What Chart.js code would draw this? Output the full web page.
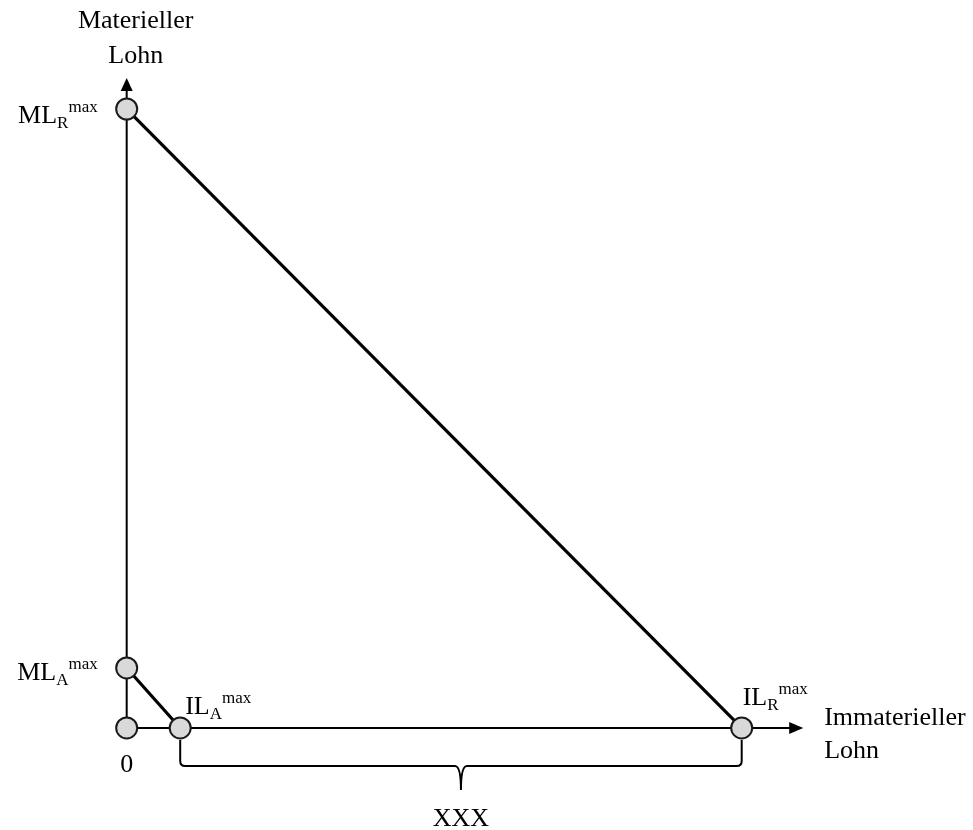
<!DOCTYPE html>
<html><head><meta charset="utf-8">
<script src="https://cdn.jsdelivr.net/npm/chart.js@4"></script>
<style>html,body{margin:0;padding:0;background:#fff}#wrap{width:973px;height:830px;position:relative}</style>
</head><body><div id="wrap"><canvas id="c"></canvas></div>
<script>
// Data (abstract units)
const pointKeys = ['origin', 'MLA', 'ILA', 'MLR', 'ILR'];
const pointX = [0, 0, 0.87, 0, 10];
const pointY = [0, 0.97, 0, 10, 0];
const lineRX = [0, 10];
const lineRY = [10, 0];
const lineAX = [0, 0.87];
const lineAY = [0.97, 0];
const xAxisEnd = 11.0;
const yAxisEnd = 10.5;
const pointLabelBase = ['0', 'ML', 'IL', 'ML', 'IL'];
const pointLabelSub = ['', 'A', 'A', 'R', 'R'];
const pointLabelSup = ['', 'max', 'max', 'max', 'max'];
const xTitle = ['Immaterieller', 'Lohn'];
const yTitle = ['Materieller', 'Lohn'];
const braceLabel = 'XXX';

const FONT = "'Liberation Serif', 'Times New Roman', serif";

const toXY = (xs, ys) => xs.map((x, i) => ({x, y: ys[i]}));

const decor = {
  id: 'decor',
  beforeDatasetsDraw(chart) {
    const ctx = chart.ctx, xs = chart.scales.x, ys = chart.scales.y;
    const ox = xs.getPixelForValue(0), oy = ys.getPixelForValue(0);
    const xe = xs.getPixelForValue(xAxisEnd), ye = ys.getPixelForValue(yAxisEnd);
    ctx.save();
    ctx.strokeStyle = '#000'; ctx.fillStyle = '#000'; ctx.lineWidth = 2;
    // axes
    ctx.beginPath(); ctx.moveTo(ox, oy); ctx.lineTo(xe - 12, oy); ctx.stroke();
    ctx.beginPath(); ctx.moveTo(ox, oy); ctx.lineTo(ox, ye + 12); ctx.stroke();
    // arrow heads
    ctx.beginPath(); ctx.moveTo(xe, oy); ctx.lineTo(xe - 14, oy - 6); ctx.lineTo(xe - 14, oy + 6); ctx.closePath(); ctx.fill();
    ctx.beginPath(); ctx.moveTo(ox, ye); ctx.lineTo(ox - 6, ye + 13); ctx.lineTo(ox + 6, ye + 13); ctx.closePath(); ctx.fill();
    ctx.restore();
  },
  afterDatasetsDraw(chart) {
    const ctx = chart.ctx, xs = chart.scales.x, ys = chart.scales.y;
    const ox = xs.getPixelForValue(0), oy = ys.getPixelForValue(0);
    const xe = xs.getPixelForValue(xAxisEnd), ye = ys.getPixelForValue(yAxisEnd);
    ctx.save();
    ctx.strokeStyle = '#000'; ctx.fillStyle = '#000';
    // brace between ILA and ILR
    const bx1 = xs.getPixelForValue(pointX[2]), bx2 = xs.getPixelForValue(pointX[4]);
    const top = oy + 12, hy = oy + 38, cy = oy + 62, mid = (bx1 + bx2) / 2;
    ctx.lineWidth = 2;
    ctx.beginPath();
    ctx.moveTo(bx1, top); ctx.lineTo(bx1, hy - 5);
    ctx.quadraticCurveTo(bx1, hy, bx1 + 5, hy);
    ctx.lineTo(mid - 6, hy);
    ctx.quadraticCurveTo(mid, hy, mid, cy);
    ctx.quadraticCurveTo(mid, hy, mid + 6, hy);
    ctx.lineTo(bx2 - 5, hy);
    ctx.quadraticCurveTo(bx2, hy, bx2, hy - 5);
    ctx.lineTo(bx2, top);
    ctx.stroke();
    // brace label
    ctx.font = '26px ' + FONT; ctx.textAlign = 'center'; ctx.textBaseline = 'alphabetic';
    ctx.fillText(braceLabel, mid, oy + 98);
    // axis titles
    ctx.textAlign = 'left';
    ctx.fillText(xTitle[0], xe + 21, oy - 3);
    ctx.fillText(xTitle[1], xe + 21, oy + 30);
    ctx.textAlign = 'center';
    ctx.fillText(yTitle[0], ox + 9, ye - 50);
    ctx.fillText(yTitle[1], ox + 9, ye - 15);
    // point labels
    const offs = {origin: [0, 44, 'c'], MLA: [-29, 12, 'r'], ILA: [5, -14, 'l'], MLR: [-29, 14, 'r'], ILR: [1, -23, 'l']};
    pointKeys.forEach((k, i) => {
      const px = xs.getPixelForValue(pointX[i]), py = ys.getPixelForValue(pointY[i]);
      const [dx, dy, al] = offs[k];
      const base = pointLabelBase[i], sub = pointLabelSub[i], sup = pointLabelSup[i];
      ctx.font = '26px ' + FONT; const wb = ctx.measureText(base).width;
      ctx.font = '17px ' + FONT; const ws = ctx.measureText(sub).width, wp = ctx.measureText(sup).width;
      const total = wb + ws + wp;
      let x0 = px + dx;
      if (al === 'r') x0 = px + dx - total;
      if (al === 'c') x0 = px + dx - total / 2;
      const by = py + dy;
      ctx.textAlign = 'left';
      ctx.font = '26px ' + FONT; ctx.fillText(base, x0, by);
      ctx.font = '17px ' + FONT;
      if (sub) ctx.fillText(sub, x0 + wb, by + 5);
      if (sup) ctx.fillText(sup, x0 + wb + ws, by - 11);
    });
    ctx.restore();
  }
};

new Chart(document.getElementById('c'), {
  type: 'scatter',
  data: {
    datasets: [
      {data: toXY(pointX, pointY), pointRadius: 10.5, pointHoverRadius: 10.5, pointBackgroundColor: '#d9d9d9', pointBorderColor: '#1a1a1a', pointBorderWidth: 2, showLine: false, order: 0, clip: false},
      {data: toXY(lineRX, lineRY), showLine: true, borderColor: '#000', borderWidth: 3.2, pointRadius: 0, order: 2, clip: false},
      {data: toXY(lineAX, lineAY), showLine: true, borderColor: '#000', borderWidth: 3.2, pointRadius: 0, order: 2, clip: false}
    ]
  },
  options: {
    responsive: true, maintainAspectRatio: false, animation: false,
    events: [],
    layout: {padding: 0, autoPadding: false},
    plugins: {legend: {display: false}, tooltip: {enabled: false}},
    scales: {
      x: {type: 'linear', display: false, min: -2.060, max: 13.761},
      y: {type: 'linear', display: false, min: -1.648, max: 11.761}
    }
  },
  plugins: [decor]
});
</script></body></html>
